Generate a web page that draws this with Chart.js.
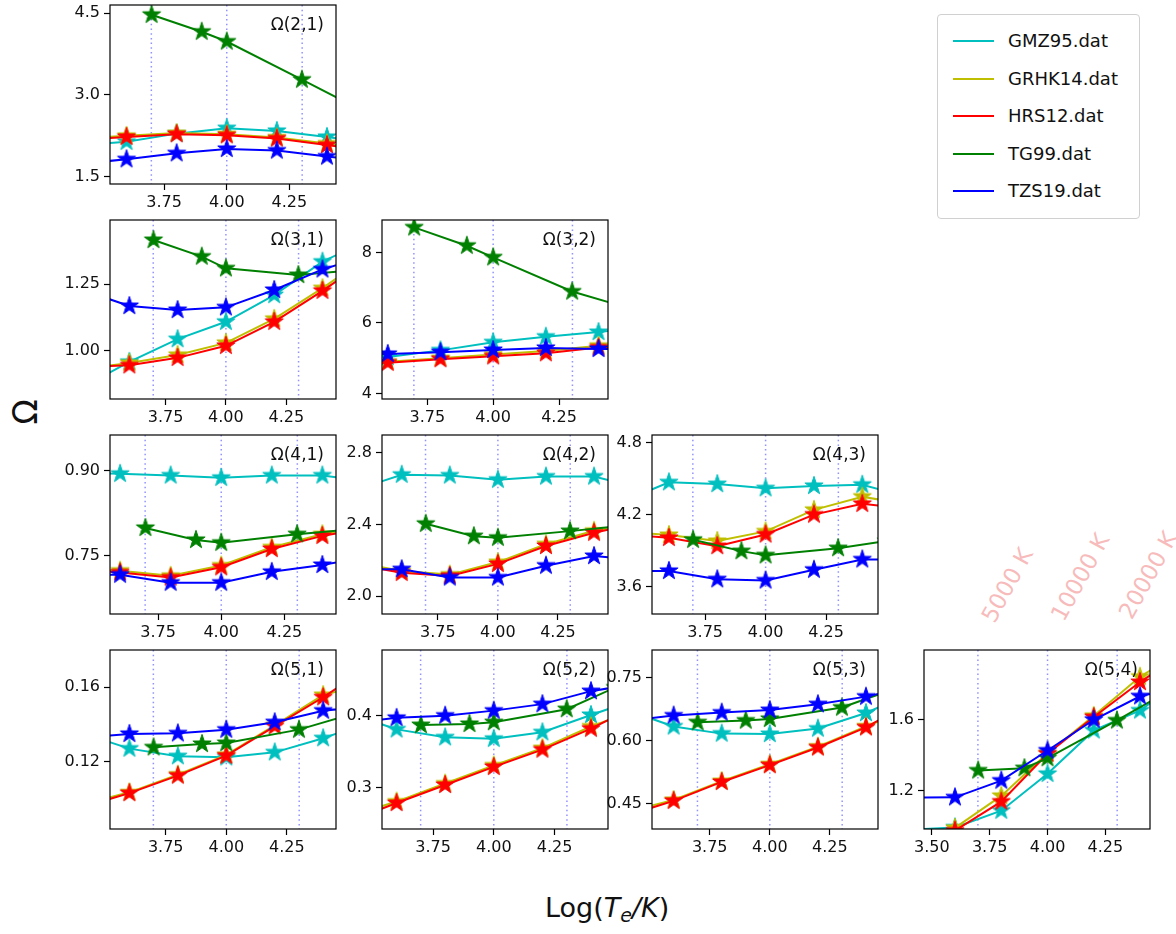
<!DOCTYPE html>
<html>
<head>
<meta charset="utf-8">
<script src="https://cdn.jsdelivr.net/npm/chart.js@4.4.1/dist/chart.umd.min.js"></script>
<style>
  body { margin: 0; background: #fff; font-family: "DejaVu Sans", sans-serif; }
  #fig { position: relative; width: 1176px; height: 934px; overflow: hidden; }
  #fig canvas { position: absolute; }
  #legend { position: absolute; left: 937px; top: 14px; width: 201px; height: 203px;
            border: 1px solid #d0d0d0; border-radius: 4px; background: #fff; }
  .lg-row { position: absolute; left: 0; height: 24px; }
  .lg-line { position: absolute; left: 15px; top: 11px; width: 41px; height: 2px; }
  .lg-text { position: absolute; left: 70px; top: 0; font-size: 18px; line-height: 24px; color: #111; white-space: nowrap; }
  .ylab { position: absolute; left: 25px; top: 412px; font-size: 33px; color: #111;
          transform: translate(-50%, -50%) rotate(-90deg); }
  .xlab { position: absolute; left: 545px; top: 892px; font-size: 27px; color: #111; white-space: nowrap; }
  .xlab sub { font-size: 19px; vertical-align: -5px; }
  .tlab { position: absolute; font-size: 23px; color: rgba(240, 120, 120, 0.5); white-space: nowrap;
          transform: translate(-50%, -50%) rotate(-61deg); }
</style>
</head>
<body>
<div id="fig">
  <div id="legend"></div>
  <div class="ylab">Ω</div>
  <div class="xlab">Log(<i>T</i><sub><i>e</i></sub><i>/K</i>)</div>
</div>
<script>
const seriesNames = ['GMZ95.dat', 'GRHK14.dat', 'HRS12.dat', 'TG99.dat', 'TZS19.dat'];
const seriesColors = ['#00bfbf', '#bfbf00', '#ff0000', '#008000', '#0000ff'];

// transition (upper, lower) of each panel
const transitions = [[2, 1], [3, 1], [3, 2], [4, 1], [4, 2], [4, 3], [5, 1], [5, 2], [5, 3], [5, 4]];

// log Te grids (first / last points lie outside the frames)
const logT = [3.4, 3.6, 3.8, 4.0, 4.2, 4.4, 4.6];
const logT_TG99 = [3.7, 3.9, 4.0, 4.3, 4.5];

// collision strengths, one row per panel
const GMZ95 = [
  [2.08, 2.14, 2.29, 2.39, 2.34, 2.23, 2.10],
  [0.86, 0.959, 1.044, 1.109, 1.209, 1.334, 1.42],
  [4.90, 5.03, 5.22, 5.45, 5.61, 5.74, 5.90],
  [0.896, 0.894, 0.891, 0.887, 0.891, 0.891, 0.88],
  [2.59, 2.678, 2.674, 2.65, 2.668, 2.668, 2.60],
  [4.30, 4.47, 4.455, 4.42, 4.44, 4.45, 4.34],
  [0.1355, 0.127, 0.1229, 0.1223, 0.125, 0.1326, 0.1416],
  [0.404, 0.381, 0.370, 0.368, 0.377, 0.401, 0.424],
  [0.674, 0.634, 0.617, 0.616, 0.629, 0.666, 0.718],
  [0.98, 0.993, 1.087, 1.294, 1.538, 1.65, 1.84]
];
const GRHK14 = [
  [2.20, 2.25, 2.30, 2.28, 2.22, 2.11, 1.97],
  [0.93, 0.955, 0.985, 1.03, 1.12, 1.235, 1.36],
  [4.80, 4.90, 5.00, 5.10, 5.20, 5.35, 5.45],
  [0.727, 0.724, 0.715, 0.733, 0.765, 0.788, 0.80],
  [2.19, 2.14, 2.12, 2.19, 2.29, 2.365, 2.41],
  [4.06, 4.03, 3.98, 4.06, 4.24, 4.35, 4.28],
  [0.097, 0.1035, 0.113, 0.1236, 0.1395, 0.1558, 0.1625],
  [0.26, 0.281, 0.306, 0.331, 0.355, 0.385, 0.41],
  [0.43, 0.459, 0.504, 0.544, 0.586, 0.634, 0.68],
  [0.85, 0.99, 1.17, 1.41, 1.62, 1.84, 2.00]
];
const HRS12 = [
  [2.17, 2.23, 2.28, 2.26, 2.20, 2.08, 1.95],
  [0.94, 0.946, 0.974, 1.019, 1.109, 1.225, 1.35],
  [4.78, 4.87, 4.97, 5.05, 5.14, 5.30, 5.40],
  [0.727, 0.721, 0.712, 0.730, 0.762, 0.785, 0.80],
  [2.18, 2.13, 2.113, 2.18, 2.28, 2.354, 2.41],
  [4.04, 4.006, 3.937, 4.034, 4.20, 4.29, 4.25],
  [0.0953, 0.1031, 0.1125, 0.1232, 0.139, 0.1546, 0.172],
  [0.253, 0.279, 0.304, 0.329, 0.353, 0.382, 0.416],
  [0.421, 0.457, 0.502, 0.542, 0.584, 0.632, 0.696],
  [0.82, 0.975, 1.138, 1.407, 1.613, 1.81, 1.98]
];
const TG99 = [
  [4.47, 4.16, 3.98, 3.28, 2.81],
  [1.415, 1.353, 1.309, 1.284, 1.30],
  [8.71, 8.19, 7.86, 6.89, 6.45],
  [0.799, 0.778, 0.773, 0.788, 0.796],
  [2.404, 2.335, 2.326, 2.363, 2.39],
  [3.99, 3.895, 3.86, 3.92, 3.98],
  [0.1277, 0.1295, 0.130, 0.1372, 0.1448],
  [0.387, 0.3885, 0.391, 0.409, 0.439],
  [0.644, 0.648, 0.652, 0.679, 0.72],
  [1.313, 1.326, 1.382, 1.594, 1.742]
];
const TZS19 = [
  [1.73, 1.82, 1.93, 2.01, 1.98, 1.87, 1.76],
  [1.23, 1.168, 1.153, 1.163, 1.228, 1.305, 1.36],
  [5.10, 5.12, 5.17, 5.23, 5.29, 5.26, 5.26],
  [0.717, 0.717, 0.703, 0.703, 0.722, 0.734, 0.75],
  [2.15, 2.15, 2.104, 2.104, 2.17, 2.224, 2.20],
  [3.73, 3.73, 3.66, 3.65, 3.74, 3.826, 3.826],
  [0.1327, 0.1349, 0.1352, 0.1372, 0.1412, 0.1474, 0.150],
  [0.389, 0.397, 0.400, 0.407, 0.416, 0.434, 0.445],
  [0.647, 0.660, 0.667, 0.673, 0.687, 0.705, 0.73],
  [1.16, 1.162, 1.256, 1.425, 1.598, 1.73, 1.79]
];

// axis limits and tick labels per panel
const xLimits = [[3.534, 4.436], [3.52, 4.456], [3.578, 4.436], [3.56, 4.454], [3.518, 4.458],
                 [3.53, 4.465], [3.52, 4.453], [3.54, 4.47], [3.51, 4.45], [3.466, 4.443]];
const yLimits = [[1.366, 4.65], [0.82, 1.49], [3.84, 8.92], [0.648, 0.962], [1.9, 2.9],
                 [3.37, 4.865], [0.0838, 0.18], [0.243, 0.491], [0.39, 0.816], [0.984, 1.99]];
const xTickLabels = ['3.50', '3.75', '4.00', '4.25'];
const yTickLabels = [['1.5', '3.0', '4.5'], ['1.00', '1.25'], ['4', '6', '8'], ['0.75', '0.90'],
                     ['2.0', '2.4', '2.8'], ['3.6', '4.2', '4.8'], ['0.12', '0.16'], ['0.3', '0.4'],
                     ['0.45', '0.60', '0.75'], ['1.2', '1.6']];

// 5000 K, 10000 K, 20000 K
const tempLines = [3.699, 4.0, 4.301];
const tempLabels = ['5000 K', '10000 K', '20000 K'];

const allSeries = [GMZ95, GRHK14, HRS12, TG99, TZS19];

// layout
const colLeft = [110, 382, 652, 924];
const rowTop = [5, 220, 435, 650];
const plotW = 226, plotH = 179;
const yAxisW = 60, xAxisH = 34, padTop = 16, padRight = 12;

Chart.defaults.font.family = '"DejaVu Sans", sans-serif';
Chart.defaults.color = '#111';

function starImage(color) {
  const c = document.createElement('canvas');
  c.width = 22; c.height = 22;
  const g = c.getContext('2d');
  g.beginPath();
  for (let k = 0; k < 10; k++) {
    const r = k % 2 ? 3.7 : 9.6;
    const a = -Math.PI / 2 + k * Math.PI / 5;
    g.lineTo(11 + r * Math.cos(a), 11 + r * Math.sin(a));
  }
  g.closePath();
  g.fillStyle = color; g.fill();
  g.lineWidth = 1; g.strokeStyle = color; g.stroke();
  return c;
}
const stars = seriesColors.map(starImage);

const panelDecor = {
  id: 'panelDecor',
  beforeDatasetsDraw(chart) {
    const { ctx, chartArea: a, scales: { x } } = chart;
    ctx.save();
    ctx.beginPath(); ctx.rect(a.left, a.top, a.width, a.height); ctx.clip();
    ctx.strokeStyle = 'rgba(100,100,255,0.7)';
    ctx.lineWidth = 1.5;
    ctx.setLineDash([1.5, 3.2]);
    tempLines.forEach(t => {
      const px = x.getPixelForValue(t);
      ctx.beginPath(); ctx.moveTo(px, a.top); ctx.lineTo(px, a.bottom); ctx.stroke();
    });
    ctx.restore();
  },
  afterDatasetsDraw(chart, args, opts) {
    const { ctx, chartArea: a } = chart;
    ctx.save();
    ctx.strokeStyle = '#000';
    ctx.lineWidth = 1.2;
    ctx.strokeRect(a.left, a.top, a.width, a.height);
    ctx.fillStyle = '#111';
    ctx.font = '17px "DejaVu Sans"';
    ctx.textAlign = 'right';
    ctx.textBaseline = 'middle';
    ctx.fillText(opts.title, a.right - 12, a.top + 21);
    ctx.restore();
  }
};

const fig = document.getElementById('fig');

transitions.forEach(([up, lo], p) => {
  const row = up - 2, col = lo - 1;
  const cv = document.createElement('canvas');
  cv.width = yAxisW + plotW + padRight;
  cv.height = padTop + plotH + xAxisH;
  cv.style.left = (colLeft[col] - yAxisW) + 'px';
  cv.style.top = (rowTop[row] - padTop) + 'px';
  fig.appendChild(cv);

  const datasets = allSeries.map((s, i) => {
    const xs = i === 3 ? logT_TG99 : logT;
    return {
      label: seriesNames[i],
      data: xs.map((t, k) => ({ x: t, y: s[p][k] })),
      borderColor: seriesColors[i],
      backgroundColor: seriesColors[i],
      borderWidth: 2,
      pointStyle: stars[i],
      pointRadius: 9,
      tension: 0,
      order: 5 - i
    };
  });

  const [xmin, xmax] = xLimits[p];
  const [ymin, ymax] = yLimits[p];
  const xt = xTickLabels.filter(l => +l >= xmin && +l <= xmax);
  const yt = yTickLabels[p].filter(l => +l >= ymin && +l <= ymax);

  new Chart(cv.getContext('2d'), {
    type: 'line',
    data: { datasets },
    options: {
      responsive: false,
      animation: false,
      devicePixelRatio: 1,
      layout: { padding: { top: padTop, right: padRight, left: 0, bottom: 0 } },
      plugins: {
        legend: { display: false },
        tooltip: { enabled: false },
        panelDecor: { title: 'Ω(' + up + ',' + lo + ')' }
      },
      scales: {
        x: {
          type: 'linear', min: xmin, max: xmax,
          afterBuildTicks: s => { s.ticks = xt.map(l => ({ value: +l })); },
          afterFit: s => { s.height = xAxisH; },
          grid: { drawOnChartArea: false, drawTicks: true, tickLength: 6, tickColor: '#000', tickWidth: 1.2 },
          border: { display: false },
          ticks: {
            autoSkip: false, maxRotation: 0, padding: 3, color: '#111',
            font: { size: 16 },
            callback: v => xt.find(l => Math.abs(+l - v) < 1e-9)
          }
        },
        y: {
          type: 'linear', min: ymin, max: ymax,
          afterBuildTicks: s => { s.ticks = yt.map(l => ({ value: +l })); },
          afterFit: s => { s.width = yAxisW; },
          grid: { drawOnChartArea: false, drawTicks: true, tickLength: 6, tickColor: '#000', tickWidth: 1.2 },
          border: { display: false },
          ticks: {
            autoSkip: false, padding: 4, color: '#111',
            font: { size: 16 },
            callback: v => yt.find(l => Math.abs(+l - v) < 1e-9)
          }
        }
      }
    },
    plugins: [panelDecor]
  });
});

// legend
const lg = document.getElementById('legend');
seriesNames.forEach((name, i) => {
  const r = document.createElement('div');
  r.className = 'lg-row';
  r.style.top = (14 + i * 37.5) + 'px';
  r.innerHTML = '<div class="lg-line" style="background:' + seriesColors[i] + '"></div>' +
                '<div class="lg-text">' + name + '</div>';
  lg.appendChild(r);
});

// temperature labels
const tempPos = [[1007, 585], [1080, 577], [1148, 575]];
tempLabels.forEach((t, i) => {
  const d = document.createElement('div');
  d.className = 'tlab';
  d.textContent = t;
  d.style.left = tempPos[i][0] + 'px';
  d.style.top = tempPos[i][1] + 'px';
  fig.appendChild(d);
});
</script>
</body>
</html>
